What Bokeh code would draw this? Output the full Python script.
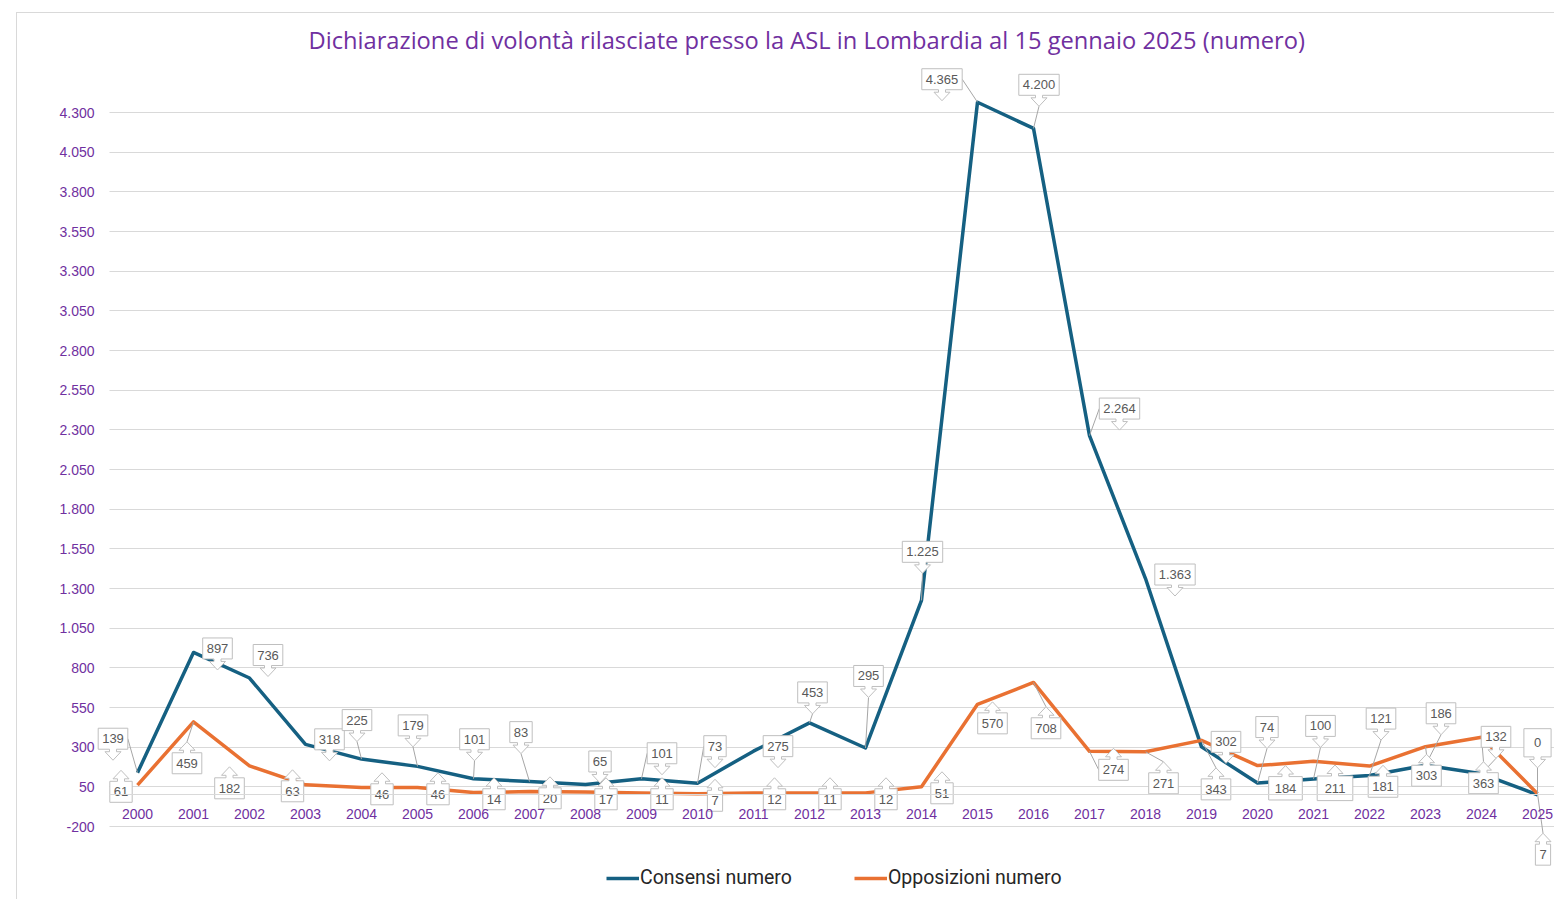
from bokeh.plotting import figure
from bokeh.models import FixedTicker, Legend, LegendItem, Range1d, InlineStyleSheet
from bokeh.core.properties import value
from bokeh.embed import file_html
from bokeh.resources import INLINE

# ---------------- data ----------------
years = ["2000", "2001", "2002", "2003", "2004", "2005", "2006", "2007", "2008",
         "2009", "2010", "2011", "2012", "2013", "2014", "2015", "2016", "2017",
         "2018", "2019", "2020", "2021", "2022", "2023", "2024", "2025"]
consensi = [139, 897, 736, 318, 225, 179, 101, 83, 65, 101, 73, 275, 453, 295,
            1225, 4365, 4200, 2264, 1363, 302, 74, 100, 121, 186, 132, 0]
opposizioni = [61, 459, 182, 63, 46, 46, 14, 20, 17, 11, 7, 12, 11, 12,
               51, 570, 708, 274, 271, 343, 184, 211, 181, 303, 363, 7]
y_ticks = [-200, 50, 300, 550, 800, 1050, 1300, 1550, 1800, 2050, 2300,
           2550, 2800, 3050, 3300, 3550, 3800, 4050, 4300]

# -------- label layout (pixel offsets of callout box centre from point) --------
cons_dx = [-24.5, 24, 18.5, 24, -4.5, -4.5, 1, -8.5, 14.5, 20.5, 17.5, 24.5, 3, 3,
           1, -35.5, 5.5, 30, 29.5, 24.5, 9.5, 7, 11.5, 15.5, 14.5, 0]
cons_dy = [-34, -4, -23, -5, -39, -41, -39.5, -49.5, -23, -25.5, -37, -5, -30.5, -72,
           -48.6, -23, -43.6, -27, -4, -5, -56, -53, -57, -52, -37, -52]
cons_leader = [1, 0, 0, 0, 1, 1, 1, 1, 0, 1, 1, 0, 1, 1, 1, 1, 1, 1, 0, 0, 1, 1, 1, 1, 1, 1]
cons_pad = [0, 0, 0, 0, 0, 0, 0, 0, 0, 0, 0, 0, 0, 0, 0, 0, 0, 0, 0, 0, 0, 0, 0, 0, 0, 12]
opp_dx = [-16.5, -6.5, -20, -13, 20.5, 20.5, 20.5, 20.5, 20.5, 20.5, 17.5, 21, 20.5, 20.5,
          20.5, 15, 12.5, 24, 18, 14.5, 28, 21.5, 13.5, 1, 2, 5.5]
opp_dy = [6.7, 41.3, 22.4, 6.5, 6.8, 6.8, 6.7, 6.7, 7.2, 6.2, 7.1, 6.4, 6.2, 6.4,
          6.6, 19, 45.8, 18.5, 31.5, 49, 22.7, 27, 20.7, 29, 46, 61]
opp_leader = [0, 1, 0, 0, 0, 0, 0, 0, 0, 0, 0, 0, 0, 0, 0, 0, 1, 1, 1, 1, 0, 0, 0, 1, 1, 1]
opp_pad = [0, 0, 0, 0, 0, 0, 0, 0, 0, 0, 0, 0, 0, 0, 0, 0, 0, 0, 0, 0, 4, 6, 0, 0, 0, 0]

# ---------------- layout ----------------
W, H = 1554, 899
BL, BT = 96, 60
FW, FH = W - BL, H - BT
PXX = 56.0
X0 = -0.5 - 13 / PXX
X1 = X0 + FW / PXX
Y0, Y1 = -660.0, 4628.0
PXY = FH / (Y1 - Y0)

PURPLE = "#7030A0"
BLUE = "#156082"
ORANGE = "#E97132"


def it_fmt(v):
    return f"{v:,}".replace(",", ".")


p = figure(width=W, height=H, x_range=Range1d(X0, X1), y_range=Range1d(Y0, Y1),
           output_backend="svg", toolbar_location=None,
           min_border_left=BL, min_border_right=0, min_border_top=BT, min_border_bottom=0,
           title="Dichiarazione di volontà rilasciate presso la ASL in Lombardia al 15 gennaio 2025 (numero)")
p.title.align = "left"
p.title.offset = 212
p.title.text_font = "Open Sans"
p.title.text_font_style = "normal"
p.title.text_font_size = "23.7px"
p.title.text_color = PURPLE
p.outline_line_color = None
p.background_fill_color = "white"
p.border_fill_color = "white"
p.stylesheets = [InlineStyleSheet(css=(
    ":host { position: relative; }"
    ":host::after { content: ''; position: absolute; left: 16px; top: 12px; right: 0px;"
    " bottom: 0px; border-left: 1px solid #D9D9D9; border-top: 1px solid #D9D9D9;"
    " pointer-events: none; z-index: 10; }"))]

# y axis
p.yaxis.ticker = FixedTicker(ticks=y_ticks)
p.yaxis.major_label_overrides = {t: it_fmt(t) for t in y_ticks}
p.yaxis.axis_line_color = None
p.yaxis.major_tick_line_color = None
p.yaxis.minor_tick_line_color = None
p.yaxis.major_tick_out = 0
p.yaxis.major_label_standoff = 2
p.yaxis.major_label_text_color = PURPLE
p.yaxis.major_label_text_font = "Liberation Sans"
p.yaxis.major_label_text_font_size = "14px"

# x axis at zero
xs_idx = list(range(len(years)))
p.xaxis.fixed_location = 0
p.xaxis.bounds = (-0.5, X1)
p.xaxis.ticker = FixedTicker(ticks=xs_idx)
p.xaxis.major_label_overrides = {i: years[i] for i in xs_idx}
p.xaxis.axis_line_color = "#D9D9D9"
p.xaxis.axis_line_width = 1
p.xaxis.major_tick_line_color = None
p.xaxis.minor_tick_line_color = None
p.xaxis.major_tick_out = 0
p.xaxis.major_tick_in = 0
p.xaxis.major_label_standoff = 14
p.xaxis.major_label_text_color = PURPLE
p.xaxis.major_label_text_font = "Liberation Sans"
p.xaxis.major_label_text_font_size = "14px"

p.xgrid.visible = False
p.ygrid.grid_line_color = "#D9D9D9"
p.ygrid.grid_line_width = 1
p.ygrid.cross_bounds = (-0.5, X1)

r1 = p.line(xs_idx, consensi, line_color=BLUE, line_width=3.5, line_join="round")
r2 = p.line(xs_idx, opposizioni, line_color=ORANGE, line_width=3.5, line_join="round")

# ---------------- callouts ----------------
BOX_H = 21
STEM_W, STEM_L, HEAD_W, HEAD_L = 3.5, 2.5, 8, 8.5


def text_w(s):
    return 8 + sum(3.6 if c == "." else 7.2 for c in s)


def build(vals, dxs, dys, leaders, pads, down):
    patch_x, patch_y = [], []
    lx, ly = [], []
    tx, ty, tt = [], [], []
    for i, v in enumerate(vals):
        lab = it_fmt(v)
        w = text_w(lab) + pads[i]
        cx_px, cy_px = dxs[i], dys[i]  # screen offsets, y down
        h2 = (BOX_H + pads[i] * 0.6) / 2
        s = 1 if down else -1
        pts = [(-w / 2, -s * h2), (w / 2, -s * h2), (w / 2, s * h2), (STEM_W, s * h2),
               (STEM_W, s * (h2 + STEM_L)), (HEAD_W, s * (h2 + STEM_L)),
               (0, s * (h2 + STEM_L + HEAD_L)), (-HEAD_W, s * (h2 + STEM_L)),
               (-STEM_W, s * (h2 + STEM_L)), (-STEM_W, s * h2), (-w / 2, s * h2)]
        patch_x.append([i + (cx_px + a) / PXX for a, b in pts])
        patch_y.append([v - (cy_px + b) / PXY for a, b in pts])
        tx.append(i + cx_px / PXX)
        ty.append(v - cy_px / PXY)
        tt.append(lab)
        if leaders[i]:
            if abs(cx_px) > w / 2 + 4:
                ax = cx_px - w / 2 if cx_px > 0 else cx_px + w / 2
                ay = cy_px
            else:
                ax = cx_px
                ay = cy_px + s * (h2 + STEM_L + HEAD_L)
            lx.append([i + ax / PXX, i])
            ly.append([v - ay / PXY, v])
    return patch_x, patch_y, lx, ly, tx, ty, tt


c = build(consensi, cons_dx, cons_dy, cons_leader, cons_pad, True)
o = build(opposizioni, opp_dx, opp_dy, opp_leader, opp_pad, False)

for d in (c, o):
    if d[2]:
        p.multi_line(d[2], d[3], line_color="#A6A6A6", line_width=1)
for d in (c, o):
    p.patches(d[0], d[1], fill_color="white", line_color="#BFBFBF", line_width=1)
    p.text(d[4], d[5], text=d[6], text_align="center", text_baseline="middle",
           text_font=value("Liberation Sans"), text_font_size="13px", text_color="#595959")

legend = Legend(items=[LegendItem(label="Consensi numero", renderers=[r1]),
                       LegendItem(label="Opposizioni numero", renderers=[r2])],
                orientation="horizontal", location=(510, 10), padding=0, margin=0,
                spacing=62, glyph_width=33, glyph_height=20, label_standoff=1,
                label_text_font="Roboto", label_text_font_size="19.5px",
                label_text_color="#262626", background_fill_alpha=0,
                border_line_color=None)
p.add_layout(legend)

open("out.html", "w").write(file_html(p, INLINE))
